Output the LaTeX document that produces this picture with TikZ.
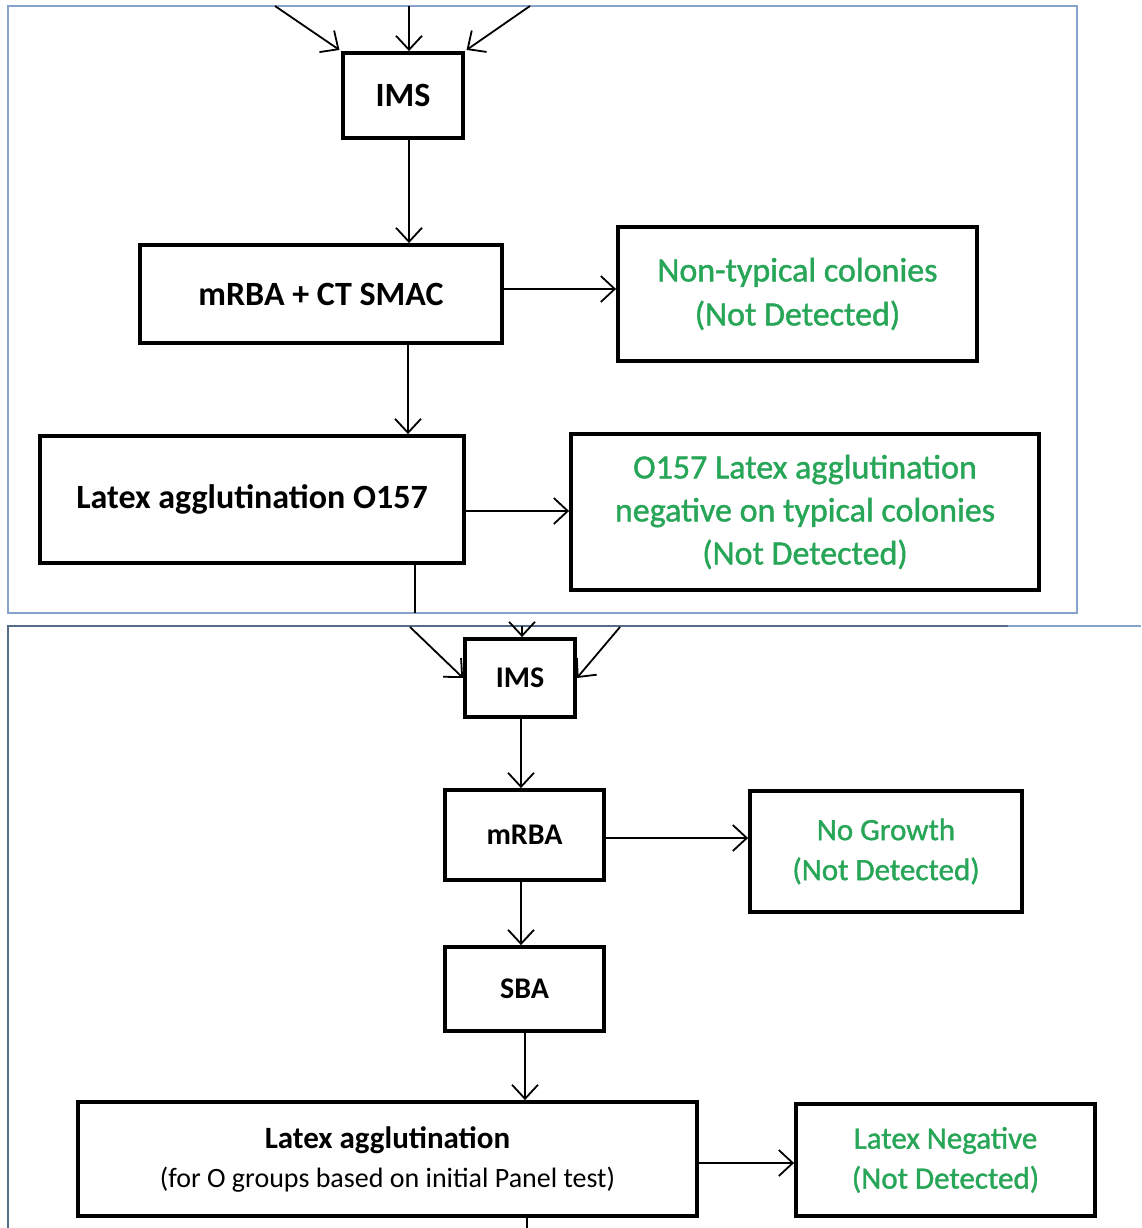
\documentclass[tikz,border=0pt]{standalone}
\usepackage{fontspec}
\setmainfont{Carlito}
\newfontfamily\resultfont[FakeBold=1.2]{Carlito}
\usetikzlibrary{arrows.meta}
\definecolor{okgreen}{RGB}{40,166,88}
\definecolor{panelblue}{RGB}{135,163,205}
\definecolor{paneldark}{RGB}{85,108,135}
\begin{document}
\begin{tikzpicture}[x=1pt,y=-1pt,
  box/.style={draw=black, line width=3.8pt, inner sep=0pt, align=center, fill=white},
  bigtext/.style={font=\bfseries\fontsize{34}{44}\selectfont},
  biggreen/.style={font=\resultfont\fontsize{34}{44}\selectfont, text=okgreen},
  smalltext/.style={font=\bfseries\fontsize{30}{40}\selectfont},
  smallgreen/.style={font=\resultfont\fontsize{31}{40}\selectfont, text=okgreen},
  link/.style={line width=1.8pt},
  arr/.style={link, -{Straight Barb[length=14pt,width=26pt,line width=1.8pt]}}]
\useasboundingbox (0,0) rectangle (1141,1228);

% panel frames
\draw[panelblue, line width=2pt] (8,6) rectangle (1077,613);
\draw[paneldark, line width=2.4pt] (8,1228) -- (8,626) -- (1008,626);
\draw[panelblue, line width=2pt] (1008,626) -- (1141,626);

% ---------- upper panel ----------
\node[box, bigtext, minimum width=120pt, minimum height=85pt] (ims1) at (403,95.5) {\raisebox{-3pt}{IMS}};
\node[box, bigtext, minimum width=362pt, minimum height=98pt] (mrba1) at (321,294) {mRBA + CT SMAC};
\node[box, biggreen, minimum width=359pt, minimum height=134pt] (nontyp) at (797.5,294)
  {Non-typical colonies\\(Not Detected)};
\node[box, bigtext, minimum width=424pt, minimum height=127pt] (latex1) at (252,499.5) {Latex agglutination O157};
\node[box, font=\resultfont\fontsize{34}{43}\selectfont, text=okgreen, minimum width=468pt, minimum height=156pt] (negO) at (805,512)
  {O157 Latex agglutination\\negative on typical colonies\\(Not Detected)};

\coordinate (inA) at (275,6);
\coordinate (inB) at (409,6);
\coordinate (inC) at (530,6);
\coordinate (v1) at (409,0);
\coordinate (v2) at (408,0);
\coordinate (h1) at (0,289);
\coordinate (h2) at (0,511);
\coordinate (exit1) at (415,613);

\draw[arr, shorten >=2pt] (inA) -- (ims1.north west);
\draw[arr] (inB) -- (ims1.north -| v1);
\draw[arr, shorten >=2pt] (inC) -- (ims1.north east);
\draw[arr] (ims1.south -| v1) -- (mrba1.north -| v1);
\draw[arr] (mrba1.east |- h1) -- (nontyp.west |- h1);
\draw[arr] (mrba1.south -| v2) -- (latex1.north -| v2);
\draw[arr] (latex1.east |- h2) -- (negO.west |- h2);
\draw[link] (latex1.south -| exit1) -- (exit1);

% ---------- lower panel ----------
\node[box, smalltext, minimum width=110pt, minimum height=78pt] (ims2) at (520,678) {IMS};
\node[box, smalltext, minimum width=159pt, minimum height=90pt] (mrba2) at (524.5,835) {mRBA};
\node[box, smallgreen, minimum width=272pt, minimum height=121pt] (nogrowth) at (886,851.5)
  {No Growth\\(Not Detected)};
\node[box, smalltext, minimum width=159pt, minimum height=84pt] (sba) at (524.5,989) {SBA};
\node[box, font=\fontsize{28}{39}\selectfont, minimum width=619pt, minimum height=114pt] (latex2) at (387.5,1159)
  {{\bfseries\fontsize{31}{39}\selectfont Latex agglutination}\\(for O groups based on initial Panel test)};
\node[box, smallgreen, minimum width=299pt, minimum height=112pt] (latneg) at (945.5,1160)
  {Latex Negative\\(Not Detected)};

\coordinate (inD) at (410,627);
\coordinate (inE) at (522,626);
\coordinate (inF) at (620,627);
\coordinate (v3) at (521,0);
\coordinate (v4) at (525,0);
\coordinate (h3) at (0,838);
\coordinate (h4) at (0,1163);
\coordinate (exit2) at (527,1228);

\draw[arr] (inD) -- (ims2.west);
\draw[arr] (inE) -- (ims2.north -| inE);
\draw[arr] (inF) -- (ims2.east);
\draw[arr] (ims2.south -| v3) -- (mrba2.north -| v3);
\draw[arr] (mrba2.east |- h3) -- (nogrowth.west |- h3);
\draw[arr] (mrba2.south -| v3) -- (sba.north -| v3);
\draw[arr] (sba.south -| v4) -- (latex2.north -| v4);
\draw[arr] (latex2.east |- h4) -- (latneg.west |- h4);
\draw[link] (latex2.south -| exit2) -- (exit2);
\end{tikzpicture}
\end{document}
